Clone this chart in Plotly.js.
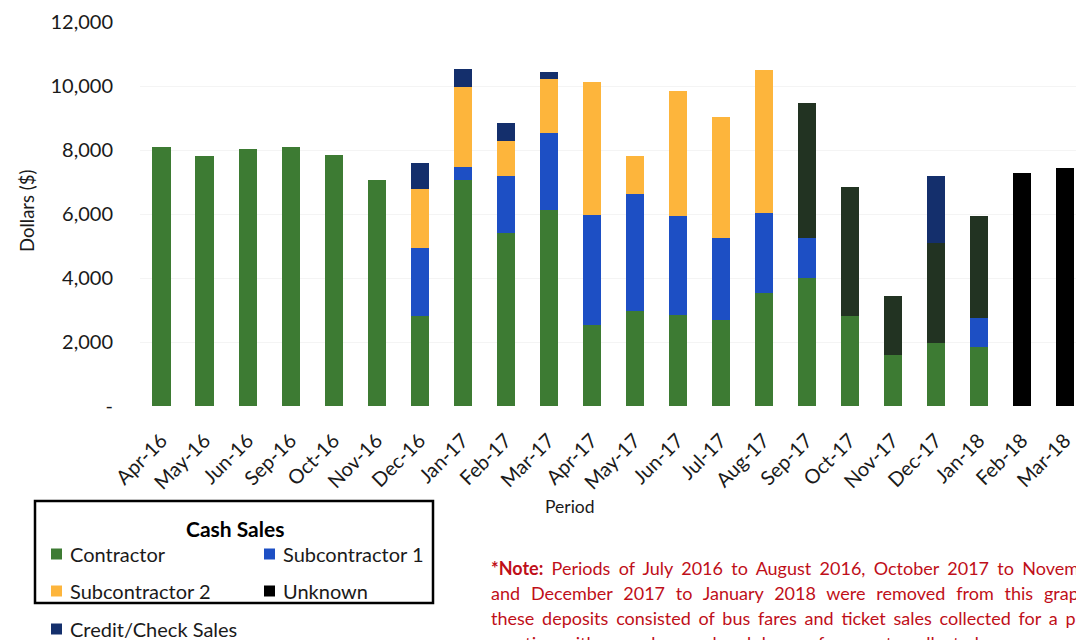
<!DOCTYPE html>
<html>
<head>
<meta charset="utf-8">
<script src="https://cdn.plot.ly/plotly-3.0.1.min.js"></script>
<style>
  html, body { margin: 0; padding: 0; background: #fff; overflow: hidden; }
  #chart { width: 1076px; height: 640px; }
</style>
</head>
<body>
<div id="chart"></div>
<script>
// Monthly deposits by source (dollars)
const periods = ['Apr-16', 'May-16', 'Jun-16', 'Sep-16', 'Oct-16', 'Nov-16', 'Dec-16', 'Jan-17',
  'Feb-17', 'Mar-17', 'Apr-17', 'May-17', 'Jun-17', 'Jul-17', 'Aug-17', 'Sep-17', 'Oct-17',
  'Nov-17', 'Dec-17', 'Jan-18', 'Feb-18', 'Mar-18'];

const contractor = [8100, 7820, 8030, 8100, 7830, 7050, 2820, 7060, 5400, 6125, 2530, 2980,
  2840, 2690, 3520, 3990, 2820, 1590, 1960, 1850, 0, 0];
const subcontractor1 = [0, 0, 0, 0, 0, 0, 2110, 400, 1800, 2415, 3440, 3635,
  3100, 2570, 2500, 1270, 0, 0, 0, 890, 0, 0];
const subcontractor2 = [0, 0, 0, 0, 0, 0, 1850, 2520, 1090, 1680, 4145, 1195,
  3905, 3780, 4480, 0, 0, 0, 0, 0, 0, 0];
const unknown = [0, 0, 0, 0, 0, 0, 0, 0, 0, 0, 0, 0,
  0, 0, 0, 4220, 4030, 1850, 3145, 3210, 7290, 7450];
const creditCheck = [0, 0, 0, 0, 0, 0, 820, 540, 540, 230, 0, 0,
  0, 0, 0, 0, 0, 0, 2085, 0, 0, 0];

const yTickValues = [0, 2000, 4000, 6000, 8000, 10000, 12000];
const yTickLabels = ['-', '2,000', '4,000', '6,000', '8,000', '10,000', '12,000'];

const noteLines = [
  '<b>*Note:</b> Periods of July 2016 to August 2016, October 2017 to November 2017,',
  'and December 2017 to January 2018 were removed from this graph because',
  'these deposits consisted of bus fares and ticket sales collected for a program',
  'practice with an unknown breakdown of amounts collected.'
];

// ---- styling ----
const COLORS = {
  contractor: '#3d7b33',
  sub1: '#1d4fc4',
  sub2: '#fdb53c',
  unknown: '#223322',
  unknownLate: '#000000',
  credit: '#142f6c'
};
const FONT = 'Lato, "Open Sans", sans-serif';
const TEXT = '#1a1a1a';
const NOTE_RED = '#bf0f19';

// plot box in page pixels
const PLOT = { left: 140, right: 1076, top: 22, bottom: 406 };
const W = 1076, H = 640;
const px = x => (x - PLOT.left) / (PLOT.right - PLOT.left);
const py = y => (PLOT.bottom - y) / (PLOT.bottom - PLOT.top);

const barWidth = 0.42;
const bar = (name, values, color) => ({
  type: 'bar', name, x: periods, y: values, width: barWidth,
  marker: { color, line: { width: 0 } }, hoverinfo: 'x+y+name'
});

// the last two periods are drawn in solid black
const unknownColors = periods.map((p, i) => i >= periods.indexOf('Feb-18') ? COLORS.unknownLate : COLORS.unknown);

const traces = [
  bar('Contractor', contractor, COLORS.contractor),
  bar('Subcontractor 1', subcontractor1, COLORS.sub1),
  bar('Subcontractor 2', subcontractor2, COLORS.sub2),
  bar('Unknown', unknown, unknownColors),
  bar('Credit/Check Sales', creditCheck, COLORS.credit)
];

// ---- custom legend (boxed "Cash Sales" group + credit entry below) ----
const shapes = [{
  type: 'rect', xref: 'paper', yref: 'paper',
  x0: px(35), x1: px(433), y0: py(603), y1: py(501),
  line: { color: '#000', width: 2.5 }, fillcolor: 'rgba(0,0,0,0)'
}];
const annotations = [];

function legendEntry(label, color, sx, cy) {
  shapes.push({
    type: 'rect', xref: 'paper', yref: 'paper',
    x0: px(sx), x1: px(sx + 11), y0: py(cy + 5.5), y1: py(cy - 5.5),
    line: { width: 0 }, fillcolor: color
  });
  annotations.push({
    xref: 'paper', yref: 'paper', x: px(sx + 17), y: py(cy),
    xanchor: 'left', yanchor: 'middle', showarrow: false,
    text: label, font: { family: FONT, size: 20, color: TEXT }
  });
}

annotations.push({
  xref: 'paper', yref: 'paper', x: px(235), y: py(528),
  xanchor: 'center', yanchor: 'middle', showarrow: false,
  text: '<b>Cash Sales</b>', font: { family: FONT, size: 21, color: '#000' }
});
legendEntry('Contractor', COLORS.contractor, 51, 554);
legendEntry('Subcontractor 1', COLORS.sub1, 264, 554);
legendEntry('Subcontractor 2', COLORS.sub2, 51, 591);
legendEntry('Unknown', '#000', 264, 591);
legendEntry('Credit/Check Sales', COLORS.credit, 51, 629);

// axis titles
annotations.push({
  xref: 'paper', yref: 'paper', x: px(27), y: py(211), textangle: -90,
  xanchor: 'center', yanchor: 'middle', showarrow: false,
  text: 'Dollars ($)', font: { family: FONT, size: 18.5, color: TEXT }
});
annotations.push({
  xref: 'paper', yref: 'paper', x: px(570), y: py(506),
  xanchor: 'center', yanchor: 'middle', showarrow: false,
  text: 'Period', font: { family: FONT, size: 17.5, color: TEXT }
});

// footnote, spaced out per line like justified text
const noteWordSpacing = [3.7, 6.2, 3.2, 3.2];
noteLines.forEach((line, i) => {
  annotations.push({
    xref: 'paper', yref: 'paper', x: px(489), y: py(568 + i * 25),
    xanchor: 'left', yanchor: 'middle', showarrow: false, align: 'left',
    text: `<span style="word-spacing:${noteWordSpacing[i]}px">${line}</span>`,
    font: { family: FONT, size: 18, color: NOTE_RED }
  });
});

const layout = {
  width: W, height: H,
  margin: { l: PLOT.left, r: W - PLOT.right, t: PLOT.top, b: H - PLOT.bottom, pad: 0 },
  paper_bgcolor: '#fff', plot_bgcolor: '#fff',
  barmode: 'stack',
  showlegend: false,
  font: { family: FONT, color: TEXT },
  xaxis: {
    type: 'category', range: [-0.5, 21.26],
    tickangle: -45, tickfont: { family: FONT, size: 20, color: TEXT },
    showgrid: false, zeroline: false, showline: false, ticks: '',
    ticklabelstandoff: 18, fixedrange: true
  },
  yaxis: {
    range: [0, 12000], tickmode: 'array', tickvals: yTickValues, ticktext: yTickLabels,
    tickfont: { family: FONT, size: 20, color: TEXT },
    showgrid: true, gridcolor: '#f4f4f4', gridwidth: 1,
    zeroline: false, showline: false, ticks: '',
    ticklabelstandoff: 26, fixedrange: true
  },
  shapes, annotations
};

Plotly.newPlot('chart', traces, layout, { displayModeBar: false, staticPlot: true });
</script>
</body>
</html>
